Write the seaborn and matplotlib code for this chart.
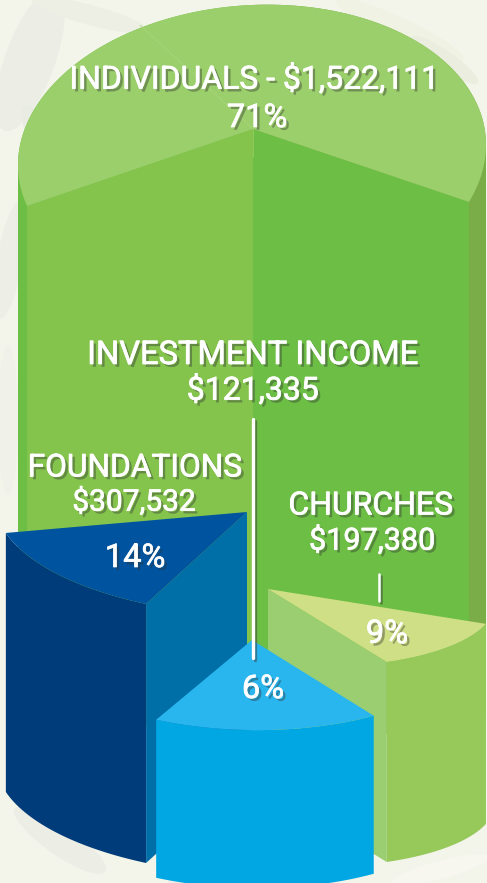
import numpy as np
import seaborn as sns
import matplotlib.pyplot as plt
import matplotlib.patheffects as pe
from matplotlib.patches import Ellipse

# Data
sources = ['INDIVIDUALS', 'FOUNDATIONS', 'CHURCHES', 'INVESTMENT INCOME']
amounts = ['$1,522,111', '$307,532', '$197,380', '$121,335']
shares = [71, 14, 9, 6]

sns.set_theme(style='white')
plt.rcParams['font.family'] = ['Roboto', 'DejaVu Sans']

fig, ax = plt.subplots(figsize=(4.87, 8.83), dpi=100)
ax.set_position([0, 0, 1, 1])
ax.set_xlim(0, 487)
ax.set_ylim(883, 0)
ax.axis('off')
fig.patch.set_facecolor('#f3f4ea')

# faint foliage behind the pie
leaves = [(30, 60, 50, 150, 20, '#eceee5'), (50, 150, 30, 100, -30, '#e9ece2'),
          (10, 260, 26, 120, 10, '#edefe6'), (8, 420, 20, 150, 0, '#f0f1e8'),
          (90, 15, 120, 20, 15, '#edefe5'), (400, 30, 140, 24, 25, '#f0f2e4'),
          (445, 60, 80, 18, 35, '#ebeedf'), (478, 260, 16, 140, 0, '#f1f3e7'),
          (60, 840, 110, 30, 35, '#ecede5'), (190, 875, 60, 24, -40, '#ededE6'),
          (440, 870, 100, 18, -15, '#f7f7f0'), (15, 640, 16, 120, 0, '#f1f2e6')]
for x, y, w, h, ang, col in leaves:
    ax.add_patch(Ellipse((x, y), w, h, angle=ang, fc=col, ec='none', zorder=0))


def rim(center, a, b, angles):
    t = np.radians(angles)
    px = center[0] + np.cos(t) * a[0] + np.sin(t) * b[0]
    py = center[1] + np.cos(t) * a[1] + np.sin(t) * b[1]
    return px, py


def wedge(share, apex, center, a, b, spread, mid, height, top, left, right, wall, wall2=None):
    half = share * 3.6 * spread / 2
    th = np.linspace(mid - half, mid + half, 240)
    px, py = rim(center, a, b, th)
    # outer wall, split where the rim folds back so each piece fills solid
    folds = np.where(np.sign(np.diff(px))[1:] != np.sign(np.diff(px))[:-1])[0] + 1
    cuts = [0] + list(folds) + [len(th) - 1]
    if wall2 is not None:
        cuts = sorted(set(cuts + [int(np.argmin(np.abs(th)))]))
    for s, e in zip(cuts[:-1], cuts[1:]):
        col = wall2 if (wall2 is not None and th[e] <= th[np.argmin(np.abs(th))]) else wall
        x1, y1 = px[s:e + 1], py[s:e + 1]
        ax.fill(np.r_[x1, x1[::-1]], np.r_[y1, y1[::-1] + height], color=col, lw=0, zorder=1)
    # radial faces
    for i, col in ((0, left), (-1, right)):
        if col is not None:
            ax.fill([apex[0], px[i], px[i], apex[0]],
                    [apex[1], py[i], py[i] + height, apex[1] + height], color=col, lw=0, zorder=1)
    ax.fill(np.r_[apex[0], px], np.r_[apex[1], py], color=top, lw=0, zorder=1)


# Individuals
wedge(shares[0], (253, 129), (252, 155), (0, -150), (234, -10), 0.853, 3, 560,
      '#9bcf6b', '#84c44d', '#6dbe45', '#7aac47', '#6dbe45')
ax.plot([140, 253], [25, 129], color='#a9d67e', lw=0.5, zorder=1)
ax.plot([253, 253], [129, 157], color='#93cd63', lw=0.6, zorder=1)
# Foundations
wedge(shares[1], (247, 512), (247, 512), (-189, 62.4), (164.7, 83.4), 1, 0, 259,
      '#00549f', None, '#006ea7', '#003b7a')
# Churches
wedge(shares[2], (268, 589), (268, 589), (180.4, 57.8), (-138, 53), 1.3, 0, 200,
      '#cfdf85', None, '#9bce70', '#96c85a')
# Investment income
wedge(shares[3], (252, 640), (252, 640), (15, 90), (216, -4), 2.8, 0, 158,
      '#29b6ee', None, None, '#00a7e3')

shadow = [pe.SimpleLineShadow(offset=(1.5, -1.5), shadow_color='#333333', alpha=0.45), pe.Normal()]
sns.lineplot(x=[253, 253], y=[419, 658], color='white', lw=2.4, ax=ax, zorder=3,
             estimator=None, path_effects=shadow, legend=False)
sns.lineplot(x=[379, 379], y=[574, 601], color='white', lw=1.8, ax=ax, zorder=3,
             estimator=None, path_effects=shadow, legend=False)

txt_fx = [pe.SimplePatchShadow(offset=(2, -2), shadow_rgbFace='#333333', alpha=0.4),
          pe.Stroke(linewidth=0.5, foreground='white'), pe.Normal()]


def label(x, y, s, size):
    ax.text(x, y + 2, s, color='white', fontsize=size, ha='center', va='center', zorder=4,
            path_effects=txt_fx)


label(255, 77, sources[0] + ' - ' + amounts[0], 23)
label(257, 116, f'{shares[0]}%', 23.5)
label(253, 353, sources[3], 23.5)
label(253, 388, amounts[3], 23)
label(135, 466, sources[1], 22.8)
label(134, 500, amounts[1], 21.5)
label(371, 504, sources[2], 23)
label(372, 538, amounts[2], 22)
label(135, 556, f'{shares[1]}%', 23.5)
label(263, 687, f'{shares[3]}%', 23.5)
label(387, 632, f'{shares[2]}%', 23.5)

ax.set_xlim(0, 487)
ax.set_ylim(883, 0)
plt.savefig('out.png', dpi=100, facecolor=fig.get_facecolor())
